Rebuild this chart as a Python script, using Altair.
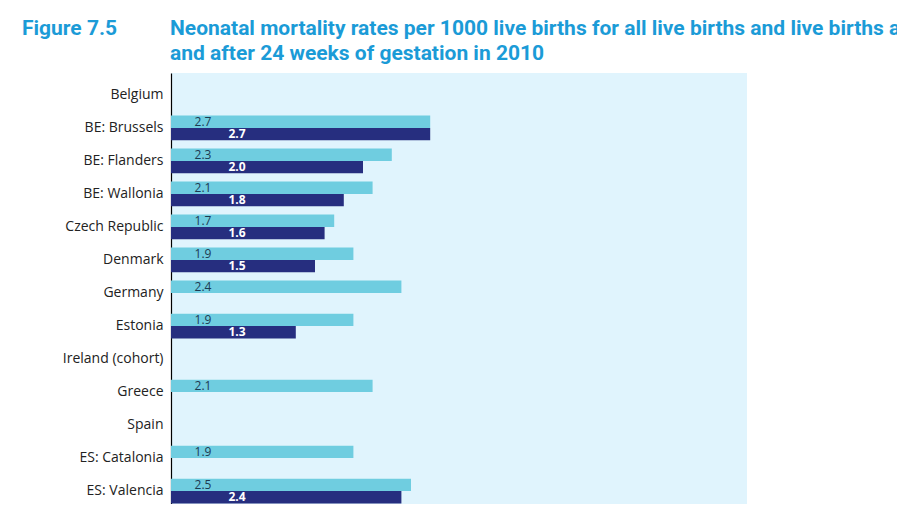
import altair as alt
import pandas as pd

countries = ["Belgium", "BE: Brussels", "BE: Flanders", "BE: Wallonia", "Czech Republic",
             "Denmark", "Germany", "Estonia", "Ireland (cohort)", "Greece", "Spain",
             "ES: Catalonia", "ES: Valencia"]
all_births = [None, 2.7, 2.3, 2.1, 1.7, 1.9, 2.4, 1.9, None, 2.1, None, 1.9, 2.5]
births_24wk = [None, 2.7, 2.0, 1.8, 1.6, 1.5, None, 1.3, None, None, None, None, 2.4]
series_names = ["All live births", "Live births at and after 24 weeks"]
figure_label = "Figure 7.5"
title_lines = ["Neonatal mortality rates per 1000 live births for all live births and live births at",
               "and after 24 weeks of gestation in 2010"]

rows = []
for c, a, b in zip(countries, all_births, births_24wk):
    rows.append({"country": c, "series": series_names[0], "value": a})
    rows.append({"country": c, "series": series_names[1], "value": b})
df = pd.DataFrame(rows)
df["label"] = df["value"].map(lambda v: "" if pd.isna(v) else f"{v:.1f}")

TITLE_COLOR = "#1b9bd7"
CYAN = "#6fcde0"
NAVY = "#262e7f"
TITLE_FONT = "Roboto"

y_enc = alt.Y("country:N", sort=countries,
              scale=alt.Scale(paddingInner=0.25, paddingOuter=0.2886, range=[0, 440]),
              axis=alt.Axis(title=None, ticks=False, domain=True, domainColor="#000000",
                            domainWidth=1.2, labelFont="Open Sans", labelFontSize=14,
                            labelColor="#222222", labelPadding=8))
yoff = alt.YOffset("series:N", sort=series_names)
x_scale = alt.Scale(domain=[0, 6], nice=False, zero=True)

bars = alt.Chart(df).mark_bar().encode(
    x=alt.X("value:Q", scale=x_scale, axis=None),
    y=y_enc,
    yOffset=yoff,
    color=alt.Color("series:N", sort=series_names,
                    scale=alt.Scale(domain=series_names, range=[CYAN, NAVY]), legend=None),
)

lab_all = alt.Chart(df[df["series"] == series_names[0]]).mark_text(
    align="center", baseline="middle", dx=32, font="Open Sans", fontSize=12, color="#1d3b52"
).encode(x=alt.datum(0, scale=x_scale), y=alt.Y("country:N", sort=countries), yOffset=yoff,
         text="label:N")

lab_24 = alt.Chart(df[df["series"] == series_names[1]]).mark_text(
    align="center", baseline="middle", dx=66, font="Open Sans", fontSize=12,
    fontWeight="bold", color="#ffffff"
).encode(x=alt.datum(0, scale=x_scale), y=alt.Y("country:N", sort=countries), yOffset=yoff,
         text="label:N")

title_df = pd.DataFrame({"t": [figure_label] + title_lines,
                         "px": [-149, -1, -1],
                         "py": [-38, -38, -13]})
titles = alt.Chart(title_df).mark_text(
    align="left", baseline="alphabetic", font=TITLE_FONT, fontSize=21,
    fontWeight="bold", color=TITLE_COLOR
).encode(x=alt.X("px:Q", scale=None), y=alt.Y("py:Q", scale=None), text="t:N")

chart = alt.layer(bars, lab_all, lab_24, titles).properties(
    width=576, height=431,
    autosize=alt.AutoSizeParams(type="none"),
    padding={"left": 163, "top": 65, "right": 150, "bottom": 0},
).configure_view(fill="#e0f4fd", stroke=None)

chart.save("out.html", embed_options={"renderer": "svg", "actions": False})
